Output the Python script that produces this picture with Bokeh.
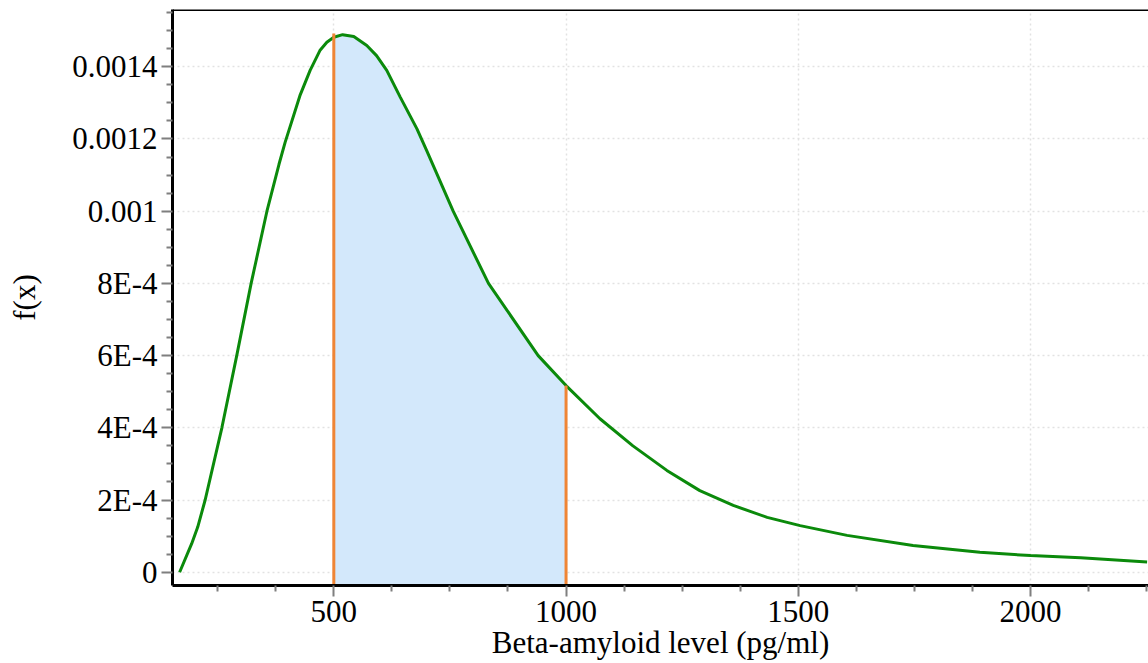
from bokeh.plotting import figure
from bokeh.models import Range1d, FixedTicker, CustomJSTickFormatter, Span
from bokeh.embed import file_html
from bokeh.resources import INLINE

# Density curve
curve_x = [168, 194, 207, 223, 259, 291, 322, 356, 382, 395, 427, 449, 470, 485,
           500, 519, 543, 571, 592, 614, 643, 679, 700, 757, 833, 940, 1000, 1073,
           1144, 1217, 1288, 1360, 1433, 1504, 1605, 1747, 1891, 2000, 2108, 2251]
curve_y = [0.0, 0.000079, 0.000125, 0.000200, 0.000400, 0.000600, 0.000800, 0.001000,
           0.001130, 0.001190, 0.001320, 0.001390, 0.001445, 0.001468, 0.001482,
           0.001489, 0.001484, 0.001459, 0.001431, 0.001390, 0.001316, 0.001228,
           0.001168, 0.001000, 0.000800, 0.000600, 0.000517, 0.000425, 0.000350,
           0.000282, 0.000226, 0.000185, 0.000152, 0.000129, 0.000102, 0.000074,
           0.000055, 0.000046, 0.000040, 0.000028]

# Shaded region 500..1000
fill_x = [500, 519, 543, 571, 592, 614, 643, 679, 700, 757, 833, 940, 1000]
fill_y = [0.001482, 0.001489, 0.001484, 0.001459, 0.001431, 0.001390, 0.001316,
          0.001228, 0.001168, 0.001000, 0.000800, 0.000600, 0.000517]

# Boundary markers
bound_x = [500, 1000]
bound_y = [0.001492, 0.000517]

x_ticks = [500, 1000, 1500, 2000]
x_minor = [250, 375, 625, 750, 875, 1125, 1250, 1375, 1625, 1750, 1875, 2125, 2250]
y_ticks = [0, 0.0002, 0.0004, 0.0006, 0.0008, 0.001, 0.0012, 0.0014]
y_labels = ["0", "2E-4", "4E-4", "6E-4", "8E-4", "0.001", "0.0012", "0.0014"]
y_minor = [k * 0.00005 for k in range(1, 32) if k % 4 != 0]

x_title = "Beta-amyloid level (pg/ml)"
y_title = "f(x)"

X_START, X_END = 152.7, 2254
Y_START, Y_END = -0.0000368, 0.0015587

SERIF = "Liberation Serif"
TICK_GRAY = "#7f7f7f"

p = figure(width=1148, height=663,
           x_range=Range1d(X_START, X_END), y_range=Range1d(Y_START, Y_END),
           output_backend="svg", toolbar_location=None,
           min_border_left=172, min_border_right=0, min_border_top=9,
           min_border_bottom=78)
p.outline_line_color = None
p.background_fill_color = "white"
p.border_fill_color = "white"

# Axes
for ax in (p.xaxis[0], p.yaxis[0]):
    ax.axis_line_color = "black"
    ax.axis_line_width = 3
    ax.major_tick_line_color = TICK_GRAY
    ax.major_tick_line_width = 2
    ax.major_tick_out = 11
    ax.major_tick_in = 0
    ax.minor_tick_line_color = TICK_GRAY
    ax.minor_tick_line_width = 2
    ax.minor_tick_out = 6
    ax.minor_tick_in = 0
    ax.major_label_text_font = SERIF
    ax.major_label_text_font_size = "31px"
    ax.major_label_text_color = "black"
    ax.axis_label_text_font = SERIF
    ax.axis_label_text_font_style = "normal"
    ax.axis_label_text_color = "black"

p.xaxis.ticker = FixedTicker(ticks=x_ticks, minor_ticks=x_minor)
p.xaxis.axis_label = x_title
p.xaxis.axis_label_text_font_size = "31px"
p.xaxis.major_label_standoff = 4
p.xaxis.axis_label_standoff = 0

p.yaxis.ticker = FixedTicker(ticks=y_ticks, minor_ticks=y_minor)
p.yaxis.formatter = CustomJSTickFormatter(
    args=dict(vals=y_ticks, labs=y_labels),
    code="for (let j = 0; j < vals.length; j++) { if (Math.abs(vals[j] - tick) < 1e-9) return labs[j]; } return '';")
p.yaxis.axis_label = y_title
p.yaxis.axis_label_text_font_size = "31px"
p.yaxis.major_label_standoff = 4
p.yaxis.axis_label_standoff = 27

# Grid
p.xgrid.ticker = FixedTicker(ticks=x_ticks)
p.ygrid.ticker = FixedTicker(ticks=y_ticks)
for g in (p.xgrid[0], p.ygrid[0]):
    g.grid_line_color = "#e2e2e2"
    g.grid_line_width = 1.5
    g.grid_line_dash = "2 3"

# Top border line
p.add_layout(Span(location=Y_END, dimension="width", line_color="black", line_width=3))

# Shaded area
p.varea(x=fill_x, y1=Y_START, y2=fill_y, fill_color="#d3e8fb")

# Curve
p.line(curve_x, curve_y, line_color="#0b8a0b", line_width=3)

# Orange bounds
p.segment(x0=bound_x, y0=Y_START, x1=bound_x, y1=bound_y,
          line_color="#ef8535", line_width=3)

open("out.html", "w").write(file_html(p, INLINE))
